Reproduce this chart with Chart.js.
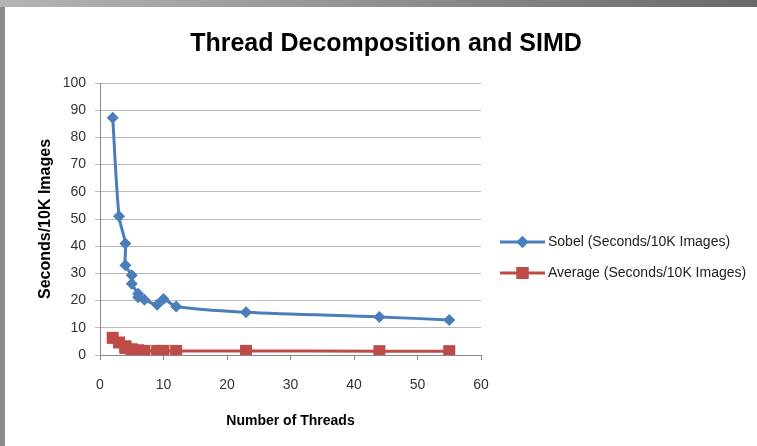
<!DOCTYPE html>
<html>
<head>
<meta charset="utf-8">
<script src="https://cdn.jsdelivr.net/npm/chart.js@4.4.0/dist/chart.umd.min.js"></script>
<style>
  html, body { margin: 0; padding: 0; width: 757px; height: 446px; overflow: hidden; }
  body { background: #8c8c8c; position: relative; }
  #topbar { position: absolute; left: 0; top: 0; width: 757px; height: 7px;
            background: linear-gradient(to right, #b4b4b4 0%, #a0a0a0 30%, #6a6a6a 100%); }
  #frame { position: absolute; left: 5px; top: 7px; width: 752px; height: 439px; background: #fff; overflow: hidden; }
  canvas { display: block; }
</style>
</head>
<body>
<div id="topbar"></div>
<div id="frame"><canvas id="myChart" width="762" height="439"></canvas></div>
<script>
// thread counts and timings (seconds per 10K images)
const threads = [2, 3, 4, 4, 5, 5, 6, 6, 7, 9, 10, 12, 23, 44, 55];
const sobel = [87.2, 51, 41, 33, 29.3, 26.2, 22.5, 21.2, 20.3, 18.5, 20.6, 17.8, 15.7, 14, 12.9];
const average = [6.3, 4.6, 3.2, 2.6, 2.1, 1.9, 1.7, 1.6, 1.5, 1.5, 1.5, 1.5, 1.5, 1.4, 1.4];
const xTicks = [0, 10, 20, 30, 40, 50, 60];
const yTicks = [0, 10, 20, 30, 40, 50, 60, 70, 80, 90, 100];
const chartTitle = 'Thread Decomposition and SIMD';

const labelFont = "'Liberation Sans', Arial, sans-serif";

const points = (ys) => ys.map((y, i) => ({x: threads[i], y: y}));

// title centred on the whole canvas, not just the padded plot box
const centreTitle = {
    id: 'centreTitle',
    afterDraw(chart) {
        const ctx = chart.ctx;
        ctx.save();
        ctx.fillStyle = '#000';
        ctx.font = 'bold 25px ' + labelFont;
        ctx.textAlign = 'center';
        ctx.textBaseline = 'middle';
        ctx.fillText(chartTitle, chart.width / 2, 37);
        ctx.restore();
    }
};

// legend drawn by hand: line + marker + text, to the right of the plot
const sideLegend = {
    id: 'sideLegend',
    afterDraw(chart) {
        const ctx = chart.ctx;
        const rows = [235, 266];
        chart.data.datasets.forEach((ds, i) => {
            const y = rows[i];
            ctx.save();
            ctx.strokeStyle = ds.borderColor;
            ctx.lineWidth = 3;
            ctx.beginPath();
            ctx.moveTo(495, y);
            ctx.lineTo(540, y);
            ctx.stroke();
            ctx.fillStyle = ds.pointBackgroundColor;
            ctx.beginPath();
            Chart.helpers.drawPoint(ctx, {pointStyle: ds.pointStyle, radius: ds.pointRadius, rotation: 0, borderWidth: 0}, 517.5, y);
            ctx.fill();
            ctx.fillStyle = '#222';
            ctx.font = '14px ' + labelFont;
            ctx.textBaseline = 'middle';
            ctx.fillText(ds.label, 543, y);
            ctx.restore();
        });
    }
};

const ctx = document.getElementById('myChart').getContext('2d');
const myChart = new Chart(ctx, {
    type: 'line',
    data: {
        datasets: [{
            label: 'Sobel (Seconds/10K Images)',
            data: points(sobel),
            borderColor: '#4a7ebb',
            backgroundColor: '#4a7ebb',
            pointBackgroundColor: '#4a7ebb',
            pointBorderWidth: 0,
            pointStyle: 'rectRot',
            pointRadius: 6,
            borderWidth: 3,
            tension: 0.3
        }, {
            label: 'Average (Seconds/10K Images)',
            data: points(average),
            borderColor: '#be4b48',
            backgroundColor: '#be4b48',
            pointBackgroundColor: '#be4b48',
            pointBorderWidth: 0,
            pointStyle: 'rect',
            pointRadius: 8.5,
            borderWidth: 3,
            tension: 0.3
        }]
    },
    options: {
        responsive: false,
        animation: false,
        layout: { padding: { left: 0, right: 286, top: 76, bottom: 0 } },
        plugins: {
            legend: { display: false },
            tooltip: { enabled: false },
            title: { display: false }
        },
        scales: {
            x: {
                type: 'linear',
                min: 0,
                max: 60,
                afterBuildTicks: (s) => { s.ticks = xTicks.map(v => ({value: v})); },
                afterFit: (s) => { s.height = 91; },
                grid: { drawOnChartArea: false, tickLength: 5, color: '#888' },
                border: { color: '#888' },
                ticks: { color: '#333', padding: 17, font: { family: labelFont, size: 14 } },
                title: {
                    display: true,
                    text: 'Number of Threads',
                    color: '#000',
                    font: { family: labelFont, size: 14, weight: 'bold' },
                    padding: { top: 0, bottom: 16 }
                }
            },
            y: {
                min: 0,
                max: 100,
                afterBuildTicks: (s) => { s.ticks = yTicks.map(v => ({value: v})); },
                afterFit: (s) => { s.width = 95; },
                grid: { color: '#b8b8b8', tickLength: 5, lineWidth: 1 },
                border: { color: '#888' },
                ticks: { color: '#333', padding: 9, font: { family: labelFont, size: 14 } },
                title: {
                    display: true,
                    text: 'Seconds/10K Images',
                    color: '#000',
                    font: { family: labelFont, size: 16, weight: 'bold' },
                    padding: { top: 31, bottom: 0 }
                }
            }
        }
    },
    plugins: [centreTitle, sideLegend]
});
</script>
</body>
</html>
